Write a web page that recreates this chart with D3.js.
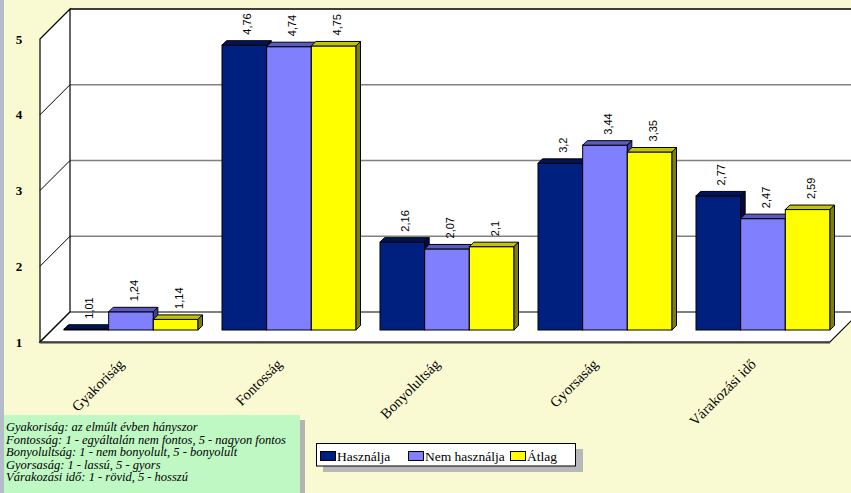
<!DOCTYPE html>
<html>
<head>
<meta charset="utf-8">
<script src="https://cdn.jsdelivr.net/npm/d3@7"></script>
<style>
  html, body { margin: 0; padding: 0; background: #fafad2; overflow: hidden; }
  svg { display: block; }
</style>
</head>
<body>
<svg id="chart" width="851" height="493"></svg>
<script>
// Survey scores by question, three respondent groups
const categories = ["Gyakoriság", "Fontosság", "Bonyolultság", "Gyorsaság", "Várakozási idő"];
const seriesNames = ["Használja", "Nem használja", "Átlag"];
const hasznalja    = [1.01, 4.76, 2.16, 3.2, 2.77];
const nemHasznalja = [1.24, 4.74, 2.07, 3.44, 2.47];
const atlag        = [1.14, 4.75, 2.1, 3.35, 2.59];
const yTicks = [1, 2, 3, 4, 5];
const notes = [
  "Gyakoriság: az elmúlt évben hányszor",
  "Fontosság: 1 - egyáltalán nem fontos, 5 - nagyon fontos",
  "Bonyolultság: 1 - nem bonyolult, 5 - bonyolult",
  "Gyorsaság: 1 - lassú, 5 - gyors",
  "Várakozási idő: 1 - rövid, 5 - hosszú"
];

const seriesValues = [hasznalja, nemHasznalja, atlag];
const palette = [
  { front: "#002080", top: "#00145a", side: "#000c40" },
  { front: "#8080ff", top: "#5a5ac4", side: "#40409c" },
  { front: "#ffff00", top: "#c4c400", side: "#808000" }
];

const SERIF = "'Liberation Serif', 'Times New Roman', serif";
const SANS = "'Liberation Sans', Arial, sans-serif";

const svg = d3.select("#chart");
const fmt = v => String(v).replace(".", ",");

// pseudo-3D geometry
const WALL = 30;     // depth of the side wall / floor
const PLANE = 12;    // depth at which the bars stand
const BAR = 4.5;     // thickness of each bar

const x0 = d3.scaleBand().domain(categories).range([40, 830]);
const x1 = d3.scaleBand().domain(seriesNames).range([12, x0.bandwidth() - 12]);
const y = d3.scaleLinear().domain([1, 5]).range([342, 39]);

// frame on the left edge
svg.append("rect").attr("x", 0).attr("y", 0).attr("width", 4).attr("height", 493).attr("fill", "#b4bccb");

// back wall
const xL = x0.range()[0], xR = x0.range()[1];
svg.append("rect")
  .attr("x", xL + WALL).attr("y", y(5) - WALL)
  .attr("width", 900).attr("height", y(1) - y(5))
  .attr("fill", "#ffffff");
svg.append("line")
  .attr("x1", xL + WALL).attr("x2", 900)
  .attr("y1", y(5) - WALL).attr("y2", y(5) - WALL)
  .attr("stroke", "#000").attr("stroke-width", 1.5);

// gridlines on the back wall
svg.selectAll("line.grid").data(yTicks.filter(t => t > 1 && t < 5)).join("line")
  .attr("class", "grid")
  .attr("x1", xL + WALL).attr("x2", 900)
  .attr("y1", d => y(d) - WALL).attr("y2", d => y(d) - WALL)
  .attr("stroke", "#808080").attr("stroke-width", 1.5);

// left side wall
svg.append("path")
  .attr("d", `M${xL},${y(5)} L${xL + WALL},${y(5) - WALL} L${xL + WALL},${y(1) - WALL} L${xL},${y(1)} Z`)
  .attr("fill", "#ffffff").attr("stroke", "#000").attr("stroke-width", 1.2);
svg.selectAll("line.diag").data(yTicks.filter(t => t > 1 && t < 5)).join("line")
  .attr("class", "diag")
  .attr("x1", xL).attr("y1", d => y(d))
  .attr("x2", xL + WALL).attr("y2", d => y(d) - WALL)
  .attr("stroke", "#000").attr("stroke-width", 1);

// floor
svg.append("path")
  .attr("d", `M${xL},${y(1)} L${xR},${y(1)} L${xR + WALL},${y(1) - WALL} L${xL + WALL},${y(1) - WALL} Z`)
  .attr("fill", "#ffffff").attr("stroke", "#000").attr("stroke-width", 1.2);
svg.append("line")
  .attr("x1", xL).attr("x2", xR).attr("y1", y(1) + 0.5).attr("y2", y(1) + 0.5)
  .attr("stroke", "#404040").attr("stroke-width", 2);

// y tick labels on the front edge
svg.selectAll("text.ytick").data(yTicks).join("text")
  .attr("class", "ytick")
  .attr("x", 19).attr("y", d => y(d))
  .attr("dy", "0.35em")
  .attr("text-anchor", "middle")
  .attr("font-family", SERIF)
  .attr("font-weight", "bold")
  .attr("font-size", 13)
  .text(d => d);

// bars
const bars = [];
categories.forEach((c, ci) => {
  seriesNames.forEach((s, si) => {
    bars.push({ c, s, si, v: seriesValues[si][ci] });
  });
});

const g = svg.append("g");
bars.forEach(b => {
  const left = x0(b.c) + x1(b.s) + PLANE;
  const right = left + x1.bandwidth();
  const top = y(b.v) - PLANE;
  const bottom = y(1) - PLANE;
  const col = palette[b.si];
  const bg = g.append("g");
  bg.append("rect")
    .attr("x", left).attr("y", top)
    .attr("width", right - left).attr("height", bottom - top)
    .attr("fill", col.front).attr("stroke", "#000").attr("stroke-width", 1);
  bg.append("path")
    .attr("d", `M${left},${top} L${left + BAR},${top - BAR} L${right + BAR},${top - BAR} L${right},${top} Z`)
    .attr("fill", col.top).attr("stroke", "#000").attr("stroke-width", 1);
  bg.append("path")
    .attr("d", `M${right},${top} L${right + BAR},${top - BAR} L${right + BAR},${bottom - BAR} L${right},${bottom} Z`)
    .attr("fill", col.side).attr("stroke", "#000").attr("stroke-width", 1);
  const lx = (left + right) / 2 + BAR / 2 + 1;
  const ly = top - BAR - 6;
  bg.append("text")
    .attr("transform", `translate(${lx},${ly}) rotate(-90)`)
    .attr("dy", "0.35em")
    .attr("text-anchor", "start")
    .attr("font-family", SANS)
    .attr("font-size", 11)
    .text(fmt(b.v));
});

// category labels
svg.selectAll("text.cat").data(categories).join("text")
  .attr("class", "cat")
  .attr("transform", d => `translate(${x0(d) + x0.bandwidth() / 2 + 6},${365}) rotate(-45)`)
  .attr("text-anchor", "end")
  .attr("font-family", SERIF)
  .attr("font-size", 14.5)
  .text(d => d);

// explanatory note box
svg.append("rect").attr("x", 300).attr("y", 420).attr("width", 5).attr("height", 80).attr("fill", "#b4b4b4");
svg.append("rect").attr("x", 4).attr("y", 415).attr("width", 296).attr("height", 80).attr("fill", "#c0f8c4");
svg.selectAll("text.note").data(notes).join("text")
  .attr("class", "note")
  .attr("x", 6).attr("y", (d, i) => 431 + i * 12.5)
  .attr("font-family", SERIF)
  .attr("font-style", "italic")
  .attr("font-size", 12.5)
  .text(d => d);

// legend
const lg = svg.append("g");
lg.append("rect").attr("x", 323).attr("y", 449).attr("width", 260).attr("height", 23).attr("fill", "#b8b8b8");
lg.append("rect").attr("x", 316.5).attr("y", 443.5).attr("width", 259).attr("height", 22.5)
  .attr("fill", "#ffffff").attr("stroke", "#000").attr("stroke-width", 1);
const legendX = [320, 408, 510];
seriesNames.forEach((s, i) => {
  lg.append("rect").attr("x", legendX[i] + 0.5).attr("y", 451.5).attr("width", 15).attr("height", 9)
    .attr("fill", palette[i].front).attr("stroke", "#000").attr("stroke-width", 1);
  lg.append("text").attr("x", legendX[i] + 17).attr("y", 461)
    .attr("font-family", SERIF)
    .attr("font-size", 13.5)
    .text(s);
});
</script>
</body>
</html>
